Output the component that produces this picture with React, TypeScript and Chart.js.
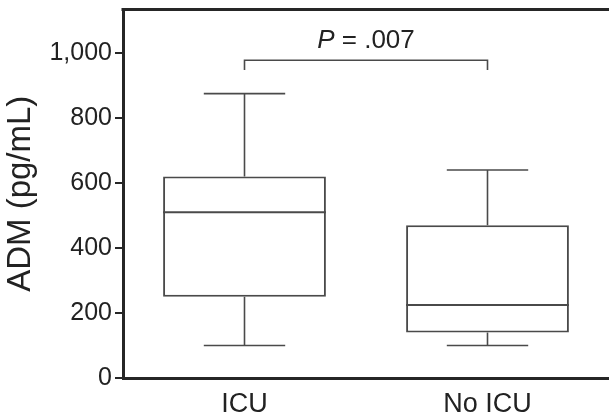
import React, { useEffect, useRef } from "react";
import { Chart, registerables } from "chart.js";

Chart.register(...registerables);

const categories = ["ICU", "No ICU"];
const whiskerMin = [100, 100];
const q1 = [250, 140];
const median = [510, 225];
const q3 = [620, 470];
const whiskerMax = [875, 640];
const yTicks = [0, 200, 400, 600, 800, 1000];
const yMax = 1134;
const bracketValue = 978;
const bracketTickValue = 948;
const pLabelValue = 1015;
const pLabelItalic = "P";
const pLabelRest = " = .007";
const yTitle = "ADM (pg/mL)";

const FONT = '"Liberation Sans", Arial, Helvetica, sans-serif';
const AXIS = "#262626";
const LINE = "#4a4a4a";
const TEXT = "#222222";

const boxPlugin = {
  id: "boxExtras",
  afterDatasetsDraw(chart: any) {
    const { ctx, chartArea, scales } = chart;
    const x = scales.x;
    const y = scales.y;
    const meta = chart.getDatasetMeta(0);
    const seg = (x0: number, y0: number, x1: number, y1: number) => {
      ctx.beginPath();
      ctx.moveTo(x0, y0);
      ctx.lineTo(x1, y1);
      ctx.stroke();
    };
    ctx.save();
    ctx.strokeStyle = LINE;
    meta.data.forEach((bar: any, i: number) => {
      const cx = bar.x;
      const w = bar.width;
      const left = cx - w / 2;
      const right = cx + w / 2;
      ctx.lineWidth = 2;
      const my = y.getPixelForValue(median[i]);
      seg(left, my, right, my);
      ctx.lineWidth = 1.6;
      const yq3 = y.getPixelForValue(q3[i]);
      const yq1 = y.getPixelForValue(q1[i]);
      const ymax = y.getPixelForValue(whiskerMax[i]);
      const ymin = y.getPixelForValue(whiskerMin[i]);
      seg(cx, yq3, cx, ymax);
      seg(cx, yq1, cx, ymin);
      seg(cx - w / 4, ymax, cx + w / 4, ymax);
      seg(cx - w / 4, ymin, cx + w / 4, ymin);
    });
    // significance bracket
    const bx0 = x.getPixelForValue(0);
    const bx1 = x.getPixelForValue(1);
    const by = y.getPixelForValue(bracketValue);
    const bt = y.getPixelForValue(bracketTickValue);
    ctx.lineWidth = 1.6;
    ctx.beginPath();
    ctx.moveTo(bx0, bt);
    ctx.lineTo(bx0, by);
    ctx.lineTo(bx1, by);
    ctx.lineTo(bx1, bt);
    ctx.stroke();
    // P label
    ctx.fillStyle = TEXT;
    ctx.textBaseline = "alphabetic";
    ctx.textAlign = "left";
    ctx.font = `italic 26px ${FONT}`;
    const wP = ctx.measureText(pLabelItalic).width;
    ctx.font = `26px ${FONT}`;
    const wR = ctx.measureText(pLabelRest).width;
    const start = (bx0 + bx1) / 2 - (wP + wR) / 2;
    const ty = y.getPixelForValue(pLabelValue);
    ctx.font = `italic 26px ${FONT}`;
    ctx.fillText(pLabelItalic, start, ty);
    ctx.font = `26px ${FONT}`;
    ctx.fillText(pLabelRest, start + wP, ty);
    // top frame line
    ctx.strokeStyle = AXIS;
    ctx.lineWidth = 3;
    seg(chartArea.left - 1.5, chartArea.top, chart.width, chartArea.top);
    ctx.restore();
  },
};

export default function App() {
  const ref = useRef<HTMLCanvasElement | null>(null);
  useEffect(() => {
    if (!ref.current) return;
    const chart = new Chart(ref.current, {
      type: "bar",
      data: {
        labels: categories,
        datasets: [
          {
            data: categories.map((_, i) => [q1[i], q3[i]]) as any,
            backgroundColor: "#ffffff",
            borderColor: LINE,
            borderWidth: 2,
            borderSkipped: false,
            barPercentage: 0.67,
            categoryPercentage: 1,
          },
        ],
      },
      options: {
        responsive: false,
        animation: false,
        devicePixelRatio: 1,
        layout: { padding: { top: 9.5, left: 0, right: 0, bottom: 0 } },
        plugins: {
          legend: { display: false },
          tooltip: { enabled: false },
        },
        scales: {
          x: {
            type: "category",
            grid: { display: false, drawTicks: false },
            border: { display: true, color: AXIS, width: 3 },
            ticks: {
              color: TEXT,
              font: { family: FONT, size: 27 },
              padding: 10,
              maxRotation: 0,
            },
            afterFit: (s: any) => {
              s.height = 37;
              s.paddingLeft = 0;
              s.paddingRight = 0;
            },
          },
          y: {
            min: 0,
            max: yMax,
            grid: {
              display: true,
              drawOnChartArea: false,
              drawTicks: true,
              tickLength: 8,
              color: AXIS,
              lineWidth: 2,
            },
            border: { display: true, color: AXIS, width: 3 },
            afterBuildTicks: (axis: any) => {
              axis.ticks = yTicks.map((v) => ({ value: v }));
            },
            ticks: {
              color: TEXT,
              font: { family: FONT, size: 25 },
              padding: 3,
              callback: (v: any) => Number(v).toLocaleString("en-US"),
            },
            title: {
              display: true,
              text: yTitle,
              color: TEXT,
              font: { family: FONT, size: 33, lineHeight: 1.2 },
              padding: { top: 1, bottom: 0 },
            },
            afterFit: (s: any) => {
              s.width = 123;
              s.paddingTop = 0;
              s.paddingBottom = 0;
            },
          },
        },
      },
      plugins: [boxPlugin],
    });
    return () => chart.destroy();
  }, []);
  return (
    <div style={{ position: "absolute", left: 0, top: 0, width: 609, height: 415 }}>
      <canvas ref={ref} width={609} height={415} />
    </div>
  );
}
